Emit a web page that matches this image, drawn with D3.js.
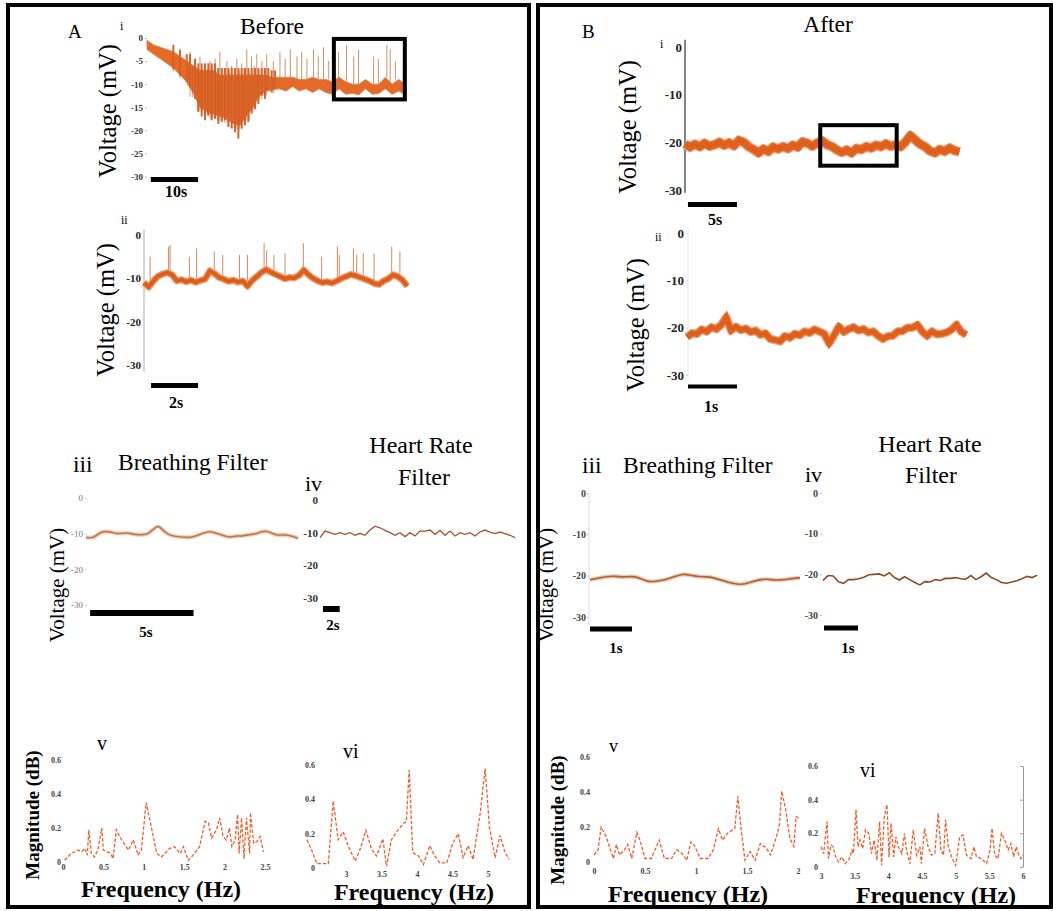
<!DOCTYPE html>
<html>
<head>
<meta charset="utf-8">
<script src="https://cdn.jsdelivr.net/npm/d3@7"></script>
<style>
body { margin: 0; background: #fff; }
svg { display: block; }
</style>
</head>
<body>
<svg id="fig" width="1053" height="911"></svg>
<script>
// ---- tick values ----
var voltTicksFine = [0, -5, -10, -15, -20, -25, -30];
var voltTicks = [0, -10, -20, -30];
var magTicks = [0, 0.2, 0.4, 0.6];
var avFreqTicks = [0, 0.5, 1, 1.5, 2, 2.5];
var aviFreqTicks = [3, 3.5, 4, 4.5, 5];
var bvFreqTicks = [0, 0.5, 1, 1.5, 2];
var bviFreqTicks = [3, 3.5, 4, 4.5, 5, 5.5, 6];

// ---- A i: raw trace before, core band edges (mV), one sample every 1.4 s ----
var aiStep = 1.4;
var aiHigh = [-0.5,-1.5,-2,-2.5,-3,-4,-5,-6,-7,-7,-7,-8,-8,-8,-8,-8,-8,-8,-8,-8.5,-8.5,-8.5,-8.5,-9,-9,-8.5,-9,-9,-9.5,-8.5,-9.5,-10,-10,-9,-10,-10,-8.5,-10,-9,-10];
var aiLow = [-2.5,-3.5,-4.5,-5.5,-6.5,-8,-9.5,-12,-15,-16,-16.5,-17,-17.5,-18.5,-19,-17,-15,-12.5,-11.5,-11.2,-11,-11.5,-10.5,-11.5,-11,-11.8,-11,-11.8,-12.2,-11,-12.2,-12,-12.3,-11,-12.2,-12,-11,-12.2,-11.5,-12.3];
// deepest excursions in the dip (s, mV)
var aiDipT = [5.57,6.98,8.39,9.09,10.15,10.85,11.56,12.26,12.97,13.67,14.38,15.08,15.79,16.49,17.20,17.90,18.60,19.31,20.01,20.72,21.42,22.13,22.83,23.54,24.24,24.95,25.65,26.36,27.06];
var aiDipV = [-6.8,-8.2,-9.6,-10.7,-13.2,-16,-17,-17.8,-16.8,-17.8,-17.5,-18.6,-18.2,-17.8,-19.3,-19.6,-20.4,-21.8,-19.6,-18.9,-18.2,-16.4,-15.4,-14.3,-12.5,-13.2,-11.1,-11.8,-10.7];
var aiSpikeT = [5.6,7.0,8.6,9.1,9.6,10.2,10.7,11.2,11.7,12.3,12.8,13.3,13.8,14.4,14.9,15.4,15.9,16.4,16.9,17.4,17.9,18.5,19.0,19.5,20.0,20.5,21.1,21.6,22.1,22.6,23.2,23.7,24.3,24.8,25.3,26.7,28.1,29.2,30.3,31.7,32.7,33.8,35.2,36.2,37.3,38.4,40.5,42.2,43.7,44.7,47.9,48.9,50.7,51.4,52.5,54.2];
var aiSpikeV = [-4,-3.5,-6,-3,-7,-5,-6.5,-4,-7,-6,-7.5,-5,-6,-4.5,-7,-3,-6.5,-7.5,-5,-7,-6,-6.5,-4.5,-7,-5.5,-6.5,-2.5,-7,-4,-6,-3.5,-7,-5,-6.5,-3.5,-5,-3,-4.5,-2.5,-4,-3,-4.5,-2.5,-4,-2,-5,-3,-1.5,-4,-2.5,-4,-4.5,-1.5,-2.5,-5,-6];
var aiBox = [39.5, 54.5, -0.2, -13.3];

// ---- A ii: zoomed trace before, one sample every 0.2 s ----
var aiiStep = 0.2;
var aiiVolt = [-11.0,-12.0,-10.6,-9.5,-9.0,-8.7,-9.2,-10.6,-10.3,-10.8,-10.4,-10.9,-10.5,-10.2,-8.3,-8.9,-9.8,-10.2,-10.7,-10.4,-10.9,-10.6,-11.8,-10.5,-9.6,-8.6,-8.0,-8.6,-9.1,-9.6,-10.1,-9.8,-9.9,-9.3,-8.1,-9.2,-10.0,-10.6,-11.0,-10.8,-11.1,-10.6,-10.0,-9.6,-9.1,-9.4,-9.8,-10.2,-10.6,-11.2,-11.4,-10.6,-10.1,-9.2,-9.6,-10.4,-11.8];
var aiiSpikeT = [0.26,1.04,1.11,1.93,2.24,2.99,3.35,4.06,4.40,5.11,5.22,5.53,6.00,6.78,7.56,8.23,8.31,8.91,9.05,9.33,9.79,10.54,10.89];
var aiiSpikeV = [-5,-2.7,-2.3,-5,-3.1,-3.8,-4.6,-4.6,-4.6,-1.9,-3.5,-4.6,-4.2,-1.9,-5,-2.7,-4.6,-3.1,-4.6,-4.2,-4.2,-2.7,-3.8];

// ---- A iii / iv: filtered traces before ----
var aiiiStep = 0.25;
var aiiiVolt = [-11.0,-11.3,-10.6,-9.4,-9.4,-9.6,-10.0,-9.9,-9.7,-10.1,-10.3,-10.3,-10.1,-8.8,-7.5,-9.3,-10.3,-10.7,-10.9,-11.0,-11.1,-10.8,-10.2,-9.7,-9.3,-9.8,-10.2,-10.8,-11.0,-10.6,-10.7,-10.4,-10.2,-10.0,-9.4,-9.3,-9.9,-10.5,-10.3,-10.4,-10.8,-11.3];
var aivStep = 0.6;
var aivVolt = [-11.5,-9.5,-10,-10.5,-10,-10.5,-10,-10.8,-10.2,-10.8,-9.2,-8,-8.5,-9.3,-10,-10.8,-10,-11.2,-10,-11,-9.5,-9.5,-9.2,-10.5,-9.3,-10.8,-9.5,-11,-10,-10.5,-10,-11,-9.8,-9.2,-9.8,-10.3,-9.8,-10.3,-10.8,-11.5];

// ---- A v / vi: spectra before ----
var avFreq = [0.02,0.10,0.19,0.23,0.27,0.30,0.32,0.35,0.39,0.43,0.48,0.50,0.55,0.59,0.62,0.66,0.70,0.74,0.81,0.87,0.93,0.97,1.03,1.10,1.16,1.22,1.32,1.38,1.45,1.49,1.55,1.61,1.69,1.76,1.80,1.84,1.90,1.94,1.98,2.02,2.06,2.09,2.13,2.16,2.18,2.21,2.24,2.27,2.31,2.32,2.36,2.40,2.44,2.48];
var avMag = [0.01,0.05,0.07,0.06,0.08,0.04,0.19,0.05,0.03,0.07,0.20,0.07,0.06,0.05,0.02,0.19,0.15,0.12,0.07,0.13,0.04,0.07,0.35,0.19,0.05,0.03,0.08,0.09,0.05,0.09,0.01,0.04,0.09,0.24,0.23,0.14,0.19,0.26,0.15,0.13,0.20,0.09,0.13,0.28,0.05,0.26,0.02,0.26,0.05,0.29,0.11,0.12,0.15,0.06];
var aviFreq = [2.45,2.52,2.59,2.66,2.75,2.82,2.89,2.96,3.03,3.13,3.20,3.28,3.36,3.43,3.52,3.57,3.64,3.71,3.81,3.85,3.89,3.94,4.02,4.09,4.18,4.25,4.32,4.42,4.50,4.58,4.65,4.72,4.79,4.89,4.96,5.02,5.10,5.17,5.24,5.30];
var aviMag = [0.165,0.10,0.025,0.025,0.025,0.39,0.165,0.21,0.13,0.04,0.11,0.22,0.11,0.07,0.17,0.01,0.165,0.21,0.26,0.27,0.57,0.09,0.07,0.02,0.13,0.07,0.03,0.03,0.14,0.20,0.06,0.13,0.05,0.32,0.58,0.24,0.06,0.19,0.09,0.05];

// ---- B i / ii: raw traces after ----
var biStep = 0.5;
var biVolt = [-20.3,-21.0,-20.4,-20.9,-20.2,-20.8,-20.5,-20.0,-20.6,-20.1,-20.7,-19.6,-20.0,-20.9,-21.5,-22.2,-21.4,-21.9,-21.0,-21.4,-20.9,-21.3,-20.6,-21.0,-19.9,-20.2,-20.8,-20.1,-19.7,-20.5,-20.9,-21.6,-22.1,-21.6,-22.2,-21.3,-21.5,-20.9,-21.2,-20.6,-20.9,-20.3,-20.8,-20.5,-20.9,-19.9,-18.6,-19.5,-20.4,-20.9,-21.8,-22.2,-21.5,-21.9,-21.2,-21.7,-22.0];
var biBox = [13.8, 21.6, -16.4, -24.9];
var biiStep = 0.1;
var biiVolt = [-22.0,-21.2,-21.3,-20.4,-20.8,-19.9,-20.3,-19.4,-17.8,-20.6,-19.8,-20.5,-20.2,-20.9,-20.6,-21.5,-21.2,-22.4,-22.6,-22.9,-21.8,-22.1,-21.3,-21.6,-20.8,-21.1,-20.4,-20.8,-21.3,-23.3,-21.6,-19.8,-20.9,-20.3,-19.9,-20.6,-20.3,-21.0,-20.8,-21.7,-22.4,-21.8,-21.7,-20.8,-20.7,-20.0,-20.0,-19.4,-20.8,-21.7,-20.8,-21.4,-21.3,-21.0,-20.4,-19.4,-20.9,-21.5];

// ---- B iii / iv: filtered traces after ----
var biiiStep = 0.2;
var biiiVolt = [-21.0,-20.6,-20.2,-20.1,-20.4,-20.1,-20.6,-21.6,-21.3,-21.0,-20.3,-19.5,-19.9,-20.3,-20.2,-20.7,-21.3,-21.9,-22.2,-21.7,-21.0,-20.8,-21.1,-21.0,-20.7,-20.5];
var bivStep = 0.15;
var bivVolt = [-21.5,-20.3,-20.4,-21.8,-22.2,-21.3,-21.3,-21.1,-20.7,-20.1,-20,-19.9,-20.4,-19.6,-20.8,-21.4,-20.6,-21.3,-22,-22.6,-21.8,-21.9,-21.3,-21.5,-21,-21,-20.8,-21.1,-21.2,-20.3,-21.3,-20.6,-19.7,-20.8,-21.3,-22,-22.2,-21.9,-21.6,-21.1,-20.5,-20.8,-20.2];

// ---- B v / vi: spectra after ----
var bvFreq = [0,0.04,0.07,0.12,0.19,0.22,0.25,0.30,0.33,0.37,0.42,0.45,0.50,0.56,0.64,0.69,0.76,0.81,0.86,0.91,0.95,0.99,1.04,1.12,1.17,1.22,1.26,1.31,1.38,1.41,1.44,1.48,1.53,1.58,1.63,1.69,1.73,1.79,1.82,1.84,1.88,1.92,1.96,1.98,2.01];
var bvMag = [0.04,0.07,0.20,0.145,0.02,0.10,0.04,0.07,0.10,0.02,0.17,0.125,0.02,0.02,0.125,0.02,0.02,0.07,0.05,0.01,0.115,0.09,0.02,0.02,0.07,0.19,0.125,0.165,0.19,0.375,0.20,0.01,0.06,0.01,0.105,0.08,0.04,0.145,0.22,0.405,0.30,0.135,0.09,0.26,0.25];
var bviFreq = [3.00,3.04,3.06,3.09,3.11,3.15,3.18,3.21,3.26,3.31,3.36,3.41,3.46,3.48,3.52,3.55,3.58,3.62,3.66,3.71,3.75,3.79,3.83,3.87,3.90,3.94,3.98,4.01,4.04,4.08,4.11,4.15,4.20,4.24,4.27,4.32,4.37,4.42,4.47,4.49,4.54,4.59,4.64,4.69,4.74,4.78,4.82,4.85,4.89,4.94,5.00,5.06,5.11,5.16,5.23,5.27,5.31,5.38,5.46,5.51,5.54,5.58,5.63,5.68,5.73,5.78,5.82,5.86,5.90,5.93,5.97,6.00];
var bviMag = [0.12,0.08,0.16,0.27,0.05,0.13,0.12,0.07,0.03,0.06,0.02,0.04,0.10,0.08,0.34,0.12,0.16,0.11,0.22,0.20,0.08,0.16,0.04,0.27,0.01,0.30,0.37,0.06,0.26,0.06,0.18,0.12,0.08,0.20,0.10,0.02,0.22,0.07,0.12,0.02,0.23,0.12,0.07,0.08,0.32,0.10,0.07,0.28,0.12,0.06,0.01,0.18,0.19,0.07,0.05,0.12,0.06,0.05,0.02,0.10,0.23,0.07,0.05,0.20,0.16,0.10,0.14,0.06,0.12,0.08,0.05,0.07];

var serif = '"Liberation Serif", "Times New Roman", Times, "DejaVu Serif", serif';
var orange = "#e2611d";
var svg = d3.select("#fig");

function addText(x, y, s, size, o) {
  o = o || {};
  return svg.append("text").attr("x", x).attr("y", y)
    .attr("font-family", serif).attr("font-size", size)
    .attr("font-weight", o.bold ? "bold" : "normal")
    .attr("text-anchor", o.anchor || "start")
    .attr("fill", o.fill || "#000").text(s);
}

function addVText(cx, cy, s, size, bold) {
  svg.append("text")
    .attr("transform", "translate(" + cx + "," + cy + ") rotate(-90)")
    .attr("dy", "0.35em").attr("text-anchor", "middle")
    .attr("font-family", serif).attr("font-size", size)
    .attr("font-weight", bold ? "bold" : "normal").text(s);
}

function leftAxis(y, x0, ticks, o) {
  var g = svg.append("g").attr("transform", "translate(" + x0 + ",0)")
    .call(d3.axisLeft(y).tickValues(ticks).tickFormat(String)
      .tickSize(o.tick).tickSizeOuter(0).tickPadding(o.pad));
  g.select(".domain").remove();
  g.attr("font-family", serif).attr("font-size", o.size)
    .attr("font-weight", o.bold ? "bold" : "normal");
  g.selectAll(".tick line").attr("stroke", o.tickColor || "#aaa");
  g.selectAll(".tick text").attr("fill", o.fill || "#222");
  if (o.line) {
    svg.append("line").attr("x1", x0).attr("x2", x0)
      .attr("y1", y(o.line[0])).attr("y2", y(o.line[1]))
      .attr("stroke", o.lineColor).attr("stroke-width", o.lineWidth || 1);
  }
}

function bottomAxis(x, y0, ticks, pad) {
  var g = svg.append("g").attr("transform", "translate(0," + y0 + ")")
    .call(d3.axisBottom(x).tickValues(ticks).tickFormat(String)
      .tickSize(0).tickPadding(pad));
  g.select(".domain").remove();
  g.attr("font-family", serif).attr("font-size", 8).attr("font-weight", "bold");
  g.selectAll(".tick text").attr("fill", "#444");
}

function scaleBar(x, t0, len, yc, thick, label, lx, ly, size) {
  svg.append("rect").attr("x", x(t0)).attr("y", yc - thick / 2)
    .attr("width", x(t0 + len) - x(t0)).attr("height", thick).attr("fill", "#000");
  addText(lx, ly, label, size, {bold: true, anchor: "middle"});
}

function zoomBox(x, y, b) {
  svg.append("rect").attr("x", x(b[0])).attr("y", y(b[2]))
    .attr("width", x(b[1]) - x(b[0])).attr("height", y(b[3]) - y(b[2]))
    .attr("fill", "none").attr("stroke", "#000").attr("stroke-width", 4);
}

function noisyTrace(vals, step, x, y, w) {
  var line = d3.line().x(function(d, i) { return x(i * step); }).y(function(d) { return y(d); });
  svg.append("path").datum(vals).attr("d", line).attr("fill", "none")
    .attr("stroke", "#e9a47c").attr("stroke-width", w + 2.5).attr("stroke-linejoin", "round");
  svg.append("path").datum(vals).attr("d", line).attr("fill", "none")
    .attr("stroke", orange).attr("stroke-width", w).attr("stroke-linejoin", "miter");
  svg.append("path").datum(vals).attr("d", line).attr("fill", "none")
    .attr("stroke", "#c9551c").attr("stroke-width", 0.8).attr("stroke-opacity", 0.6);
}

function filterTrace(vals, step, x, y, color, w, halo, curve) {
  var line = d3.line().curve(curve).x(function(d, i) { return x(i * step); }).y(function(d) { return y(d); });
  if (halo) {
    svg.append("path").datum(vals).attr("d", line).attr("fill", "none")
      .attr("stroke", halo).attr("stroke-width", w + 2.5);
  }
  svg.append("path").datum(vals).attr("d", line).attr("fill", "none")
    .attr("stroke", color).attr("stroke-width", w);
}

function spectrum(freq, mag, x, y) {
  svg.append("path").datum(freq)
    .attr("d", d3.line().x(function(d) { return x(d); }).y(function(d, i) { return y(mag[i]); }))
    .attr("fill", "none").attr("stroke", "#ec5f2c").attr("stroke-width", 1.3)
    .attr("stroke-dasharray", "3.5,1.8");
}

// ---- panel borders ----
svg.append("rect").attr("x", 8).attr("y", 5).attr("width", 521).attr("height", 902)
  .attr("fill", "none").attr("stroke", "#000").attr("stroke-width", 4);
svg.append("rect").attr("x", 538).attr("y", 5).attr("width", 513).attr("height", 902)
  .attr("fill", "none").attr("stroke", "#000").attr("stroke-width", 4);

// ================= A i =================
addText(68, 38, "A", 19);
addText(120, 30, "i", 12);
addText(272, 34, "Before", 23.5, {anchor: "middle"});
var xAi = d3.scaleLinear().domain([0, 55]).range([147, 407.2]);
var yAi = d3.scaleLinear().domain([0, -30]).range([38, 176.5]);
leftAxis(yAi, 147, voltTicksFine, {tick: 2, pad: 2, size: 9, bold: true, fill: "#333", tickColor: "#bbb"});
function aiTop(t) { return aiHigh[Math.min(aiHigh.length - 1, Math.round(t / aiStep))]; }
// upward spikes (light)
svg.append("g").selectAll("line").data(aiSpikeT).join("line")
  .attr("x1", function(d) { return xAi(d); }).attr("x2", function(d) { return xAi(d); })
  .attr("y1", function(d) { return yAi(aiTop(d)); })
  .attr("y2", function(d, i) { return yAi(aiSpikeV[i]); })
  .attr("stroke", "#cf9168").attr("stroke-width", 1);
// core band
svg.append("path").datum(aiHigh)
  .attr("d", d3.area()
    .x(function(d, i) { return xAi(i * aiStep); })
    .y0(function(d, i) { return yAi(aiLow[i]); })
    .y1(function(d) { return yAi(d); }))
  .attr("fill", "#e56a28").attr("stroke", "#d98a5a").attr("stroke-width", 1);
// deep streaks in the dip
svg.append("g").selectAll("line").data(aiDipT).join("line")
  .attr("x1", function(d) { return xAi(d); }).attr("x2", function(d) { return xAi(d); })
  .attr("y1", function(d) { return yAi(aiTop(d) + 1.5); })
  .attr("y2", function(d, i) { return yAi(aiDipV[i]); })
  .attr("stroke", "#d7642a").attr("stroke-width", 2);
svg.append("g").selectAll("line").data(aiSpikeT.filter(function(t) { return t < 27; })).join("line")
  .attr("x1", function(d) { return xAi(d); }).attr("x2", function(d) { return xAi(d); })
  .attr("y1", function(d) { return yAi(aiTop(d)); })
  .attr("y2", function(d) { return yAi(aiLow[Math.round(d / aiStep)] - 0.8); })
  .attr("stroke", "#c9561e").attr("stroke-width", 0.8).attr("stroke-opacity", 0.7);
zoomBox(xAi, yAi, aiBox);
addVText(107, 111, "Voltage (mV)", 24.5);
scaleBar(xAi, 0.8, 10, 179.5, 5, "10s", 176, 197, 16);

// ================= A ii =================
addText(121, 224, "ii", 12);
var xAii = d3.scaleLinear().domain([0, 11.2]).range([144, 407.2]);
var yAii = d3.scaleLinear().domain([0, -30]).range([235, 365]);
leftAxis(yAii, 144, voltTicks, {tick: 0, pad: 3, size: 11, bold: true, fill: "#222",
  line: [1.2, -31.5], lineColor: "#aaa"});
svg.append("g").selectAll("line").data(aiiSpikeT).join("line")
  .attr("x1", function(d) { return xAii(d); }).attr("x2", function(d) { return xAii(d); })
  .attr("y1", function(d) { return yAii(aiiVolt[Math.round(d / aiiStep)]); })
  .attr("y2", function(d, i) { return yAii(aiiSpikeV[i]); })
  .attr("stroke", "#d08a5c").attr("stroke-width", 1);
noisyTrace(aiiVolt, aiiStep, xAii, yAii, 4.5);
addVText(105, 310, "Voltage (mV)", 24.5);
scaleBar(xAii, 0.3, 2, 385.5, 5, "2s", 176, 408, 16);

// ================= A iii =================
addText(73, 472, "iii", 23.5);
addText(118, 470, "Breathing Filter", 23.5);
var xAiii = d3.scaleLinear().domain([0, 10.25]).range([86, 298]);
var yAiii = d3.scaleLinear().domain([0, -30]).range([498, 605]);
leftAxis(yAiii, 87, voltTicks, {tick: 2, pad: 2, size: 9, bold: false, fill: "#777", tickColor: "#ccc"});
filterTrace(aiiiVolt, aiiiStep, xAiii, yAiii, "#c07850", 1.6, "#f1cdb8", d3.curveBasis);
addVText(57, 585, "Voltage (mV)", 21);
scaleBar(xAiii, 0.2, 5, 613, 6, "5s", 146, 637, 15);

// ================= A iv =================
addText(305, 491, "iv", 22);
addText(421, 453, "Heart Rate", 24, {anchor: "middle"});
addText(424, 485, "Filter", 24, {anchor: "middle"});
var xAiv = d3.scaleLinear().domain([0, 23.4]).range([320, 515]);
var yAiv = d3.scaleLinear().domain([0, -30]).range([500, 598]);
leftAxis(yAiv, 320, voltTicks, {tick: 0, pad: 2, size: 11, bold: true, fill: "#333"});
filterTrace(aivVolt, aivStep, xAiv, yAiv, "#9c5330", 1.3, null, d3.curveLinear);
scaleBar(xAiv, 0.36, 2, 609, 6, "2s", 333, 630, 15);

// ================= A v =================
addText(97, 750, "v", 20);
var xAv = d3.scaleLinear().domain([0, 2.5]).range([63, 265]);
var yAv = d3.scaleLinear().domain([0, 0.6]).range([862, 760]);
leftAxis(yAv, 63, magTicks, {tick: 0, pad: 2, size: 8, bold: true, fill: "#444"});
bottomAxis(xAv, 862, avFreqTicks, 2);
spectrum(avFreq, avMag, xAv, yAv);
addVText(32, 815, "Magnitude (dB)", 19, true);
addText(161, 897, "Frequency (Hz)", 24, {bold: true, anchor: "middle"});

// ================= A vi =================
addText(343, 758, "vi", 20);
var xAvi = d3.scaleLinear().domain([3, 5]).range([346, 488]);
var yAvi = d3.scaleLinear().domain([0, 0.6]).range([868, 765]);
leftAxis(yAvi, 318, magTicks, {tick: 0, pad: 3, size: 8, bold: true, fill: "#444"});
bottomAxis(xAvi, 868, aviFreqTicks, 3);
spectrum(aviFreq, aviMag, xAvi, yAvi);
addText(414, 900, "Frequency (Hz)", 24, {bold: true, anchor: "middle"});

// ================= B i =================
addText(582, 38, "B", 19);
addText(660, 48, "i", 12);
addText(828, 32, "After", 23.5, {anchor: "middle"});
var xBi = d3.scaleLinear().domain([0, 28]).range([685, 959.4]);
var yBi = d3.scaleLinear().domain([0, -30]).range([47, 190]);
leftAxis(yBi, 685, voltTicks, {tick: 0, pad: 3, size: 13, bold: true, fill: "#222",
  line: [1.5, -30.6], lineColor: "#333", lineWidth: 1.2});
noisyTrace(biVolt, biStep, xBi, yBi, 7.5);
zoomBox(xBi, yBi, biBox);
addVText(627, 127, "Voltage (mV)", 24.5);
scaleBar(xBi, 0.3, 5, 204.5, 5, "5s", 715, 225, 16);

// ================= B ii =================
addText(655, 241, "ii", 12);
var xBii = d3.scaleLinear().domain([0, 5.7]).range([687, 966.3]);
var yBii = d3.scaleLinear().domain([0, -30]).range([233, 375]);
leftAxis(yBii, 688, voltTicks, {tick: 2, pad: 2, size: 13, bold: true, fill: "#222",
  tickColor: "#ccc", line: [1.2, -30.5], lineColor: "#e4e4e4"});
noisyTrace(biiVolt, biiStep, xBii, yBii, 6);
addVText(635, 325, "Voltage (mV)", 24.5);
scaleBar(xBii, 0.02, 1, 386.5, 4, "1s", 711, 412, 16);

// ================= B iii =================
addText(582, 473, "iii", 23.5);
addText(623, 473, "Breathing Filter", 23.5);
var xBiii = d3.scaleLinear().domain([0, 5]).range([590, 800]);
var yBiii = d3.scaleLinear().domain([0, -30]).range([493, 617]);
leftAxis(yBiii, 589, voltTicks, {tick: 2, pad: 1, size: 10, bold: true, fill: "#444",
  tickColor: "#bbb", line: [0, -32], lineColor: "#ddd"});
filterTrace(biiiVolt, biiiStep, xBiii, yBiii, "#b0623a", 1.6, "#eec7b0", d3.curveBasis);
addVText(546, 585, "Voltage (mV)", 21);
scaleBar(xBiii, 0, 1, 629, 5, "1s", 616, 653, 15);

// ================= B iv =================
addText(805, 482, "iv", 22);
addText(930, 452, "Heart Rate", 24, {anchor: "middle"});
addText(931, 483, "Filter", 24, {anchor: "middle"});
var xBiv = d3.scaleLinear().domain([0, 6.3]).range([823, 1037.2]);
var yBiv = d3.scaleLinear().domain([0, -30]).range([493, 615]);
leftAxis(yBiv, 822, voltTicks, {tick: 2, pad: 2, size: 10, bold: true, fill: "#444", tickColor: "#bbb"});
filterTrace(bivVolt, bivStep, xBiv, yBiv, "#8f4a25", 1.6, null, d3.curveLinear);
scaleBar(xBiv, 0.03, 1, 628, 5, "1s", 848, 653, 15);

// ================= B v =================
addText(609, 752, "v", 18);
var xBv = d3.scaleLinear().domain([0, 2]).range([594, 798]);
var yBv = d3.scaleLinear().domain([0, 0.6]).range([862, 757]);
leftAxis(yBv, 592, magTicks, {tick: 0, pad: 2, size: 8, bold: true, fill: "#444"});
bottomAxis(xBv, 862, bvFreqTicks, 6);
spectrum(bvFreq, bvMag, xBv, yBv);
addVText(557, 820, "Magnitude (dB)", 19, true);
addText(688, 902, "Frequency (Hz)", 24, {bold: true, anchor: "middle"});

// ================= B vi =================
addText(860, 777, "vi", 20);
var xBvi = d3.scaleLinear().domain([3, 6]).range([821, 1023]);
var yBvi = d3.scaleLinear().domain([0, 0.6]).range([867, 766]);
leftAxis(yBvi, 821, magTicks, {tick: 0, pad: 3, size: 8, bold: true, fill: "#444"});
var rightAx = svg.append("g").attr("transform", "translate(" + xBvi(6) + ",0)")
  .call(d3.axisLeft(yBvi).tickValues(magTicks).tickFormat("").tickSize(3).tickSizeOuter(0));
rightAx.selectAll("path, line").attr("stroke", "#999");
bottomAxis(xBvi, 867, bviFreqTicks, 6);
spectrum(bviFreq, bviMag, xBvi, yBvi);
addText(936, 903, "Frequency (Hz)", 24, {bold: true, anchor: "middle"});
</script>
</body>
</html>
